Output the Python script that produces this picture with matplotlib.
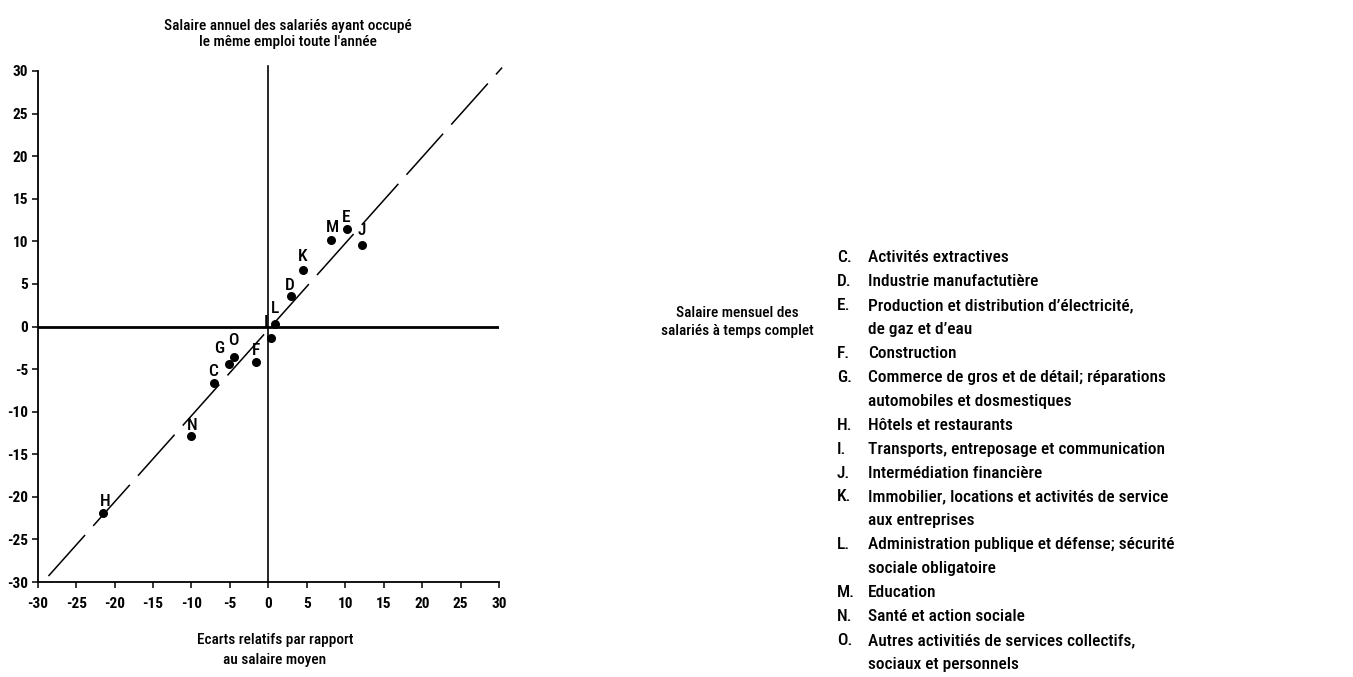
import matplotlib
matplotlib.use("Agg")
import matplotlib.pyplot as plt

plt.rcParams['font.family'] = ['Roboto Condensed', 'Roboto', 'DejaVu Sans']
plt.rcParams['font.weight'] = 'medium'
plt.rcParams['axes.unicode_minus'] = False

# sectors: x = monthly salary gap, y = annual salary gap (% vs mean)
codes = ['C', 'D', 'E', 'F', 'G', 'H', 'I', 'J', 'K', 'L', 'M', 'N', 'O']
x_vals = [-7.1, 2.9, 10.2, -1.6, -5.1, -21.5, 0.4, 12.2, 4.5, 0.9, 8.1, -10.1, -4.5]
y_vals = [-6.6, 3.6, 11.5, -4.2, -4.4, -21.9, -1.3, 9.6, 6.6, 0.3, 10.2, -12.8, -3.6]
# label offsets in pixels (dx, dy)
offsets = {'C': (-1, 11), 'D': (-1, 10), 'E': (-1, 11), 'F': (0, 12), 'G': (-10, 15),
           'H': (2, 12), 'I': (-5, 15), 'J': (0, 14), 'K': (0, 14), 'L': (0, 15),
           'M': (2, 12), 'N': (1, 10), 'O': (0, 17)}

diag_x = [-28.6, 30.4]
diag_y = [-29.3, 30.4]

ticks = [-30, -25, -20, -15, -10, -5, 0, 5, 10, 15, 20, 25, 30]

legend_items = [
    ('C.', 'Activités extractives'),
    ('D.', 'Industrie manufactutière'),
    ('E.', 'Production et distribution d\u2019électricité,\nde gaz et d\u2019eau'),
    ('F.', 'Construction'),
    ('G.', 'Commerce de gros et de détail; réparations\nautomobiles et dosmestiques'),
    ('H.', 'Hôtels et restaurants'),
    ('I.', 'Transports, entreposage et communication'),
    ('J.', 'Intermédiation financière'),
    ('K.', 'Immobilier, locations et activités de service\naux entreprises'),
    ('L.', 'Administration publique et défense; sécurité\nsociale obligatoire'),
    ('M.', 'Education'),
    ('N.', 'Santé et action sociale'),
    ('O.', 'Autres activitiés de services collectifs,\nsociaux et personnels'),
]

W, H = 1353, 677
fig = plt.figure(figsize=(W / 100, H / 100), dpi=100)
ax = fig.add_axes([37.7 / W, 1 - 582 / H, (499 - 37.7) / W, (582 - 71) / H])
ax.set_xlim(-30, 30)
ax.set_ylim(-30, 30)

for s in ['top', 'right']:
    ax.spines[s].set_visible(False)
for s in ['left', 'bottom']:
    ax.spines[s].set_linewidth(1.3)
ax.set_xticks(ticks)
ax.set_yticks(ticks)
ax.tick_params(direction='out', length=4, width=1.1, labelsize=11, pad=3)
for lab in ax.get_xticklabels() + ax.get_yticklabels():
    lab.set_fontweight('bold')
ax.tick_params(axis='x', pad=7)

# zero lines
ax.axhline(0, color='black', lw=2, zorder=1)
ax.plot([0, 0], [-30, 30.6], color='black', lw=1.2, clip_on=False, zorder=1)

# diagonal reference
line, = ax.plot(diag_x, diag_y, color='black', lw=1.1, clip_on=False, zorder=1)
line.set_dashes((36, 8))

ax.scatter(x_vals, y_vals, s=30, color='black', zorder=3)
for c, xv, yv in zip(codes, x_vals, y_vals):
    dx, dy = offsets[c]
    if c == 'G':
        ax.annotate(c, (xv, yv), xytext=(dx, dy), textcoords='offset pixels',
                    ha='center', va='center', fontsize=12.5,
                    arrowprops=dict(arrowstyle='-', lw=0.8, shrinkA=4, shrinkB=3))
    else:
        ax.annotate(c, (xv, yv), xytext=(dx, dy), textcoords='offset pixels',
                    ha='center', va='center', fontsize=12.5)

fig.text(288 / W, 1 - 34 / H,
         'Salaire annuel des salariés ayant occupé\nle même emploi toute l\'année',
         ha='center', va='center', fontsize=11, linespacing=1.2)
fig.text(737 / W, 1 - 322 / H, 'Salaire mensuel des\nsalariés à temps complet',
         ha='center', va='center', fontsize=11, linespacing=1.3)
fig.text(275 / W, 1 - 650 / H, 'Ecarts relatifs par rapport\nau salaire moyen',
         ha='center', va='center', fontsize=11, linespacing=1.6)

# legend block
y = 258
step = 23.9
for code, txt in legend_items:
    fig.text(837 / W, 1 - y / H, code, ha='left', va='center', fontsize=12.5)
    for part in txt.split('\n'):
        fig.text(868 / W, 1 - y / H, part, ha='left', va='center', fontsize=12.5)
        y += step

fig.savefig('out.png', dpi=100)
